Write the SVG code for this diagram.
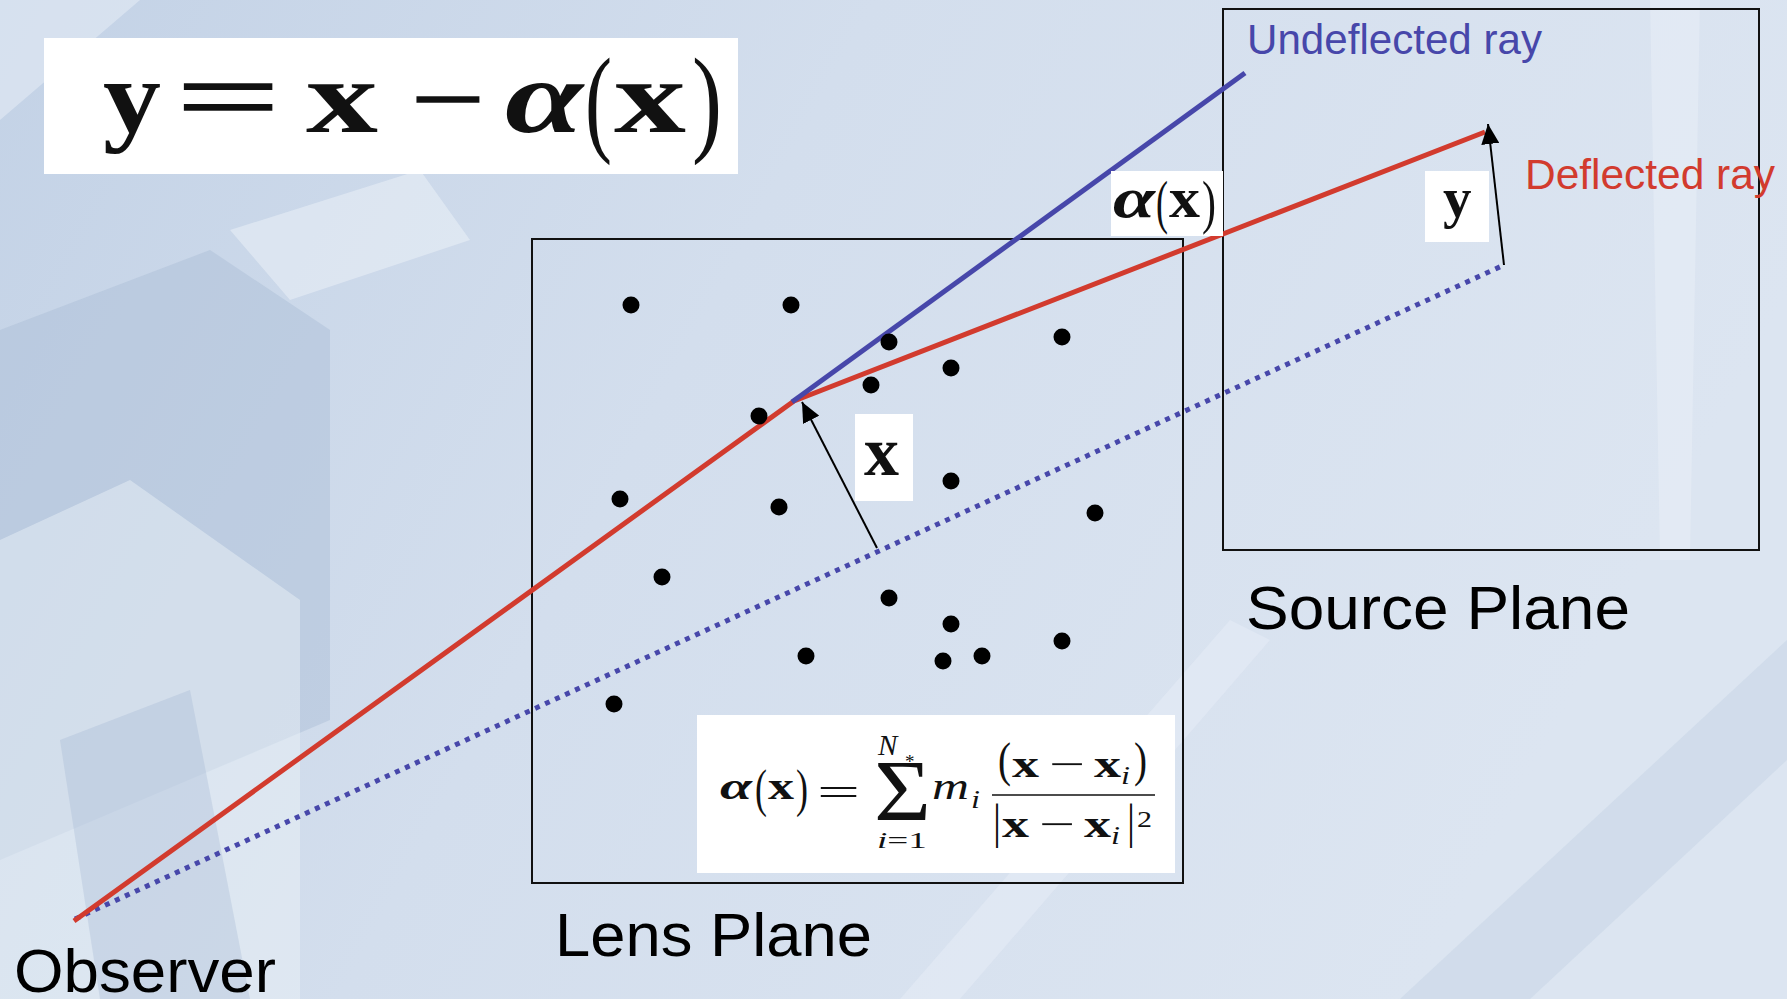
<svg xmlns="http://www.w3.org/2000/svg" width="1787" height="999" viewBox="0 0 1787 999">
<defs>
<style>
.box{fill:none;stroke:#111;stroke-width:2}
.wbox{fill:#fff}
.ser{font-family:"Liberation Serif","Times New Roman",serif;fill:#111}
.b{font-weight:bold}
.it{font-style:italic}
.sans{font-family:"Liberation Sans",Arial,sans-serif}
.dot{fill:#000}
.red{fill:none;stroke:#d23b2e;stroke-width:5;stroke-linejoin:round}
.blue{fill:none;stroke:#4747aa;stroke-width:5}
.dotted{fill:none;stroke:#4747aa;stroke-width:5;stroke-dasharray:5 6}
.arr{fill:none;stroke:#000;stroke-width:2}
</style>
<linearGradient id="bg" x1="0" y1="0" x2="1" y2="0.3">
<stop offset="0" stop-color="#c3d2e6"/>
<stop offset="0.45" stop-color="#d3deed"/>
<stop offset="1" stop-color="#dce5f1"/>
</linearGradient>
<marker id="ah" markerUnits="userSpaceOnUse" markerWidth="22" markerHeight="18" refX="20" refY="9" orient="auto">
<path d="M0,0 L20,9 L0,18 Z" fill="#000"/>
</marker>
</defs>

<g id="background">
<rect x="0" y="0" width="1787" height="999" fill="url(#bg)"/>
<polygon points="0,330 210,250 330,330 330,720 0,860" fill="#aebfd8" opacity="0.5"/>
<polygon points="0,540 130,480 300,600 300,999 0,999" fill="#eef3f9" opacity="0.45"/>
<polygon points="230,230 420,170 470,240 290,300" fill="#f2f6fb" opacity="0.45"/>
<polygon points="60,740 190,690 250,999 100,999" fill="#9fb3d0" opacity="0.3"/>
<polygon points="0,0 140,0 0,120" fill="#e9eff7" opacity="0.5"/>
<polygon points="1400,999 1787,640 1787,760 1530,999" fill="#c6d3e6" opacity="0.5"/>
<polygon points="900,999 1230,620 1270,640 960,999" fill="#e7eef7" opacity="0.5"/>
<polygon points="1650,0 1700,0 1690,560 1660,560" fill="#eaf0f8" opacity="0.5"/>
</g>

<g id="lens-plane">
<rect class="box" x="532" y="239" width="651" height="644"/>
<text class="sans" x="555" y="956" font-size="62" textLength="317" lengthAdjust="spacingAndGlyphs" fill="#000">Lens Plane</text>
</g>

<g id="source-plane">
<rect class="box" x="1223" y="9" width="536" height="541"/>
<text class="sans" x="1246" y="629" font-size="62" textLength="384" lengthAdjust="spacingAndGlyphs" fill="#000">Source Plane</text>
</g>

<g id="observer">
<text class="sans" x="14" y="992" font-size="62" textLength="262" lengthAdjust="spacingAndGlyphs" fill="#000">Observer</text>
</g>

<g id="connectors">
<polyline class="dotted" points="75,919 1504,265"/>
<polyline class="red" points="74,921 794,401 1485,132"/>
<line class="blue" x1="792" y1="402" x2="1245" y2="73"/>
<line class="arr" x1="877" y1="548" x2="802" y2="402" marker-end="url(#ah)"/>
<line class="arr" x1="1504" y1="265" x2="1488" y2="124" marker-end="url(#ah)"/>
</g>

<g id="ray-labels">
<text class="sans" x="1247" y="54" font-size="42" textLength="295" lengthAdjust="spacingAndGlyphs" fill="#4747aa">Undeflected ray</text>
<text class="sans" x="1525" y="189" font-size="42" textLength="250" lengthAdjust="spacingAndGlyphs" fill="#d23b2e">Deflected ray</text>
</g>

<g id="lens-equation">
<rect class="wbox" x="44" y="38" width="694" height="136"/>
<text class="ser b" x="103" y="132" font-size="104" textLength="58" lengthAdjust="spacingAndGlyphs">y</text>
<text class="ser" x="176" y="132" font-size="104" textLength="104" lengthAdjust="spacingAndGlyphs" stroke="#111" stroke-width="1.5">=</text>
<text class="ser b" x="306" y="132" font-size="104" textLength="72" lengthAdjust="spacingAndGlyphs">x</text>
<text class="ser" x="411" y="134" font-size="104" textLength="74" lengthAdjust="spacingAndGlyphs" stroke="#111" stroke-width="1.5">−</text>
<text class="ser b it" x="505" y="132" font-size="104" textLength="78" lengthAdjust="spacingAndGlyphs">α</text>
<text class="ser" x="585" y="140" font-size="118" textLength="27" lengthAdjust="spacingAndGlyphs">(</text>
<text class="ser b" x="614" y="132" font-size="104" textLength="72" lengthAdjust="spacingAndGlyphs">x</text>
<text class="ser" x="692" y="140" font-size="118" textLength="30" lengthAdjust="spacingAndGlyphs">)</text>
</g>

<g id="alpha-label">
<rect class="wbox" x="1111" y="171" width="112" height="65"/>
<text class="ser b it" x="1113" y="217" font-size="57" textLength="42" lengthAdjust="spacingAndGlyphs">α</text>
<text class="ser" x="1156" y="222" font-size="60" textLength="12" lengthAdjust="spacingAndGlyphs">(</text>
<text class="ser b" x="1169" y="217" font-size="57" textLength="31" lengthAdjust="spacingAndGlyphs">x</text>
<text class="ser" x="1202" y="222" font-size="60" textLength="14" lengthAdjust="spacingAndGlyphs">)</text>
</g>

<g id="y-label">
<rect class="wbox" x="1425" y="171" width="64" height="71"/>
<text class="ser b" x="1443" y="217" font-size="57">y</text>
</g>

<g id="x-label">
<rect class="wbox" x="855" y="414" width="58" height="87"/>
<text class="ser b" x="864" y="475" font-size="70">x</text>
</g>

<g id="deflection-formula">
<rect class="wbox" x="697" y="715" width="478" height="158"/>
<text class="ser b it" x="720" y="799" font-size="38" textLength="32" lengthAdjust="spacingAndGlyphs">α</text>
<text class="ser" x="755" y="806" font-size="52" textLength="12" lengthAdjust="spacingAndGlyphs">(</text>
<text class="ser b" x="768" y="799" font-size="38" textLength="26" lengthAdjust="spacingAndGlyphs">x</text>
<text class="ser" x="796" y="806" font-size="52" textLength="12" lengthAdjust="spacingAndGlyphs">)</text>
<text class="ser" x="817" y="805" font-size="38" textLength="43" lengthAdjust="spacingAndGlyphs">=</text>
<text class="ser" x="874" y="820" font-size="86" textLength="57" lengthAdjust="spacingAndGlyphs">Σ</text>
<text class="ser it" x="878" y="755" font-size="29">N</text>
<text class="ser" x="905" y="768" font-size="19">*</text>
<text class="ser" x="877" y="848" font-size="24" textLength="50" lengthAdjust="spacingAndGlyphs"><tspan class="it">i</tspan>=1</text>
<text class="ser it" x="932" y="799" font-size="38" textLength="37" lengthAdjust="spacingAndGlyphs">m</text>
<text class="ser it" x="971" y="808" font-size="26" textLength="9" lengthAdjust="spacingAndGlyphs">i</text>
<line x1="992" y1="795" x2="1155" y2="795" stroke="#111" stroke-width="1.6"/>
<text class="ser" x="998" y="776" font-size="48" textLength="13" lengthAdjust="spacingAndGlyphs">(</text>
<text class="ser b" x="1012" y="777" font-size="38" textLength="27" lengthAdjust="spacingAndGlyphs">x</text>
<text class="ser" x="1049" y="777" font-size="38" textLength="36" lengthAdjust="spacingAndGlyphs">−</text>
<text class="ser b" x="1094" y="777" font-size="38" textLength="27" lengthAdjust="spacingAndGlyphs">x</text>
<text class="ser it" x="1121" y="784" font-size="26" textLength="9" lengthAdjust="spacingAndGlyphs">i</text>
<text class="ser" x="1134" y="776" font-size="48" textLength="13" lengthAdjust="spacingAndGlyphs">)</text>
<text class="ser" x="993" y="838" font-size="48" textLength="8" lengthAdjust="spacingAndGlyphs">|</text>
<text class="ser b" x="1002" y="837" font-size="38" textLength="27" lengthAdjust="spacingAndGlyphs">x</text>
<text class="ser" x="1039" y="837" font-size="38" textLength="36" lengthAdjust="spacingAndGlyphs">−</text>
<text class="ser b" x="1084" y="837" font-size="38" textLength="27" lengthAdjust="spacingAndGlyphs">x</text>
<text class="ser it" x="1111" y="844" font-size="26" textLength="9" lengthAdjust="spacingAndGlyphs">i</text>
<text class="ser" x="1127" y="838" font-size="48" textLength="8" lengthAdjust="spacingAndGlyphs">|</text>
<text class="ser" x="1137" y="827" font-size="24" textLength="15" lengthAdjust="spacingAndGlyphs">2</text>
</g>

<g id="lenses">
<circle class="dot" cx="631" cy="305" r="8.5"/>
<circle class="dot" cx="791" cy="305" r="8.5"/>
<circle class="dot" cx="889" cy="342" r="8.5"/>
<circle class="dot" cx="1062" cy="337" r="8.5"/>
<circle class="dot" cx="951" cy="368" r="8.5"/>
<circle class="dot" cx="871" cy="385" r="8.5"/>
<circle class="dot" cx="759" cy="416" r="8.5"/>
<circle class="dot" cx="620" cy="499" r="8.5"/>
<circle class="dot" cx="779" cy="507" r="8.5"/>
<circle class="dot" cx="951" cy="481" r="8.5"/>
<circle class="dot" cx="1095" cy="513" r="8.5"/>
<circle class="dot" cx="662" cy="577" r="8.5"/>
<circle class="dot" cx="889" cy="598" r="8.5"/>
<circle class="dot" cx="951" cy="624" r="8.5"/>
<circle class="dot" cx="806" cy="656" r="8.5"/>
<circle class="dot" cx="943" cy="661" r="8.5"/>
<circle class="dot" cx="982" cy="656" r="8.5"/>
<circle class="dot" cx="1062" cy="641" r="8.5"/>
<circle class="dot" cx="614" cy="704" r="8.5"/>
</g>
</svg>
